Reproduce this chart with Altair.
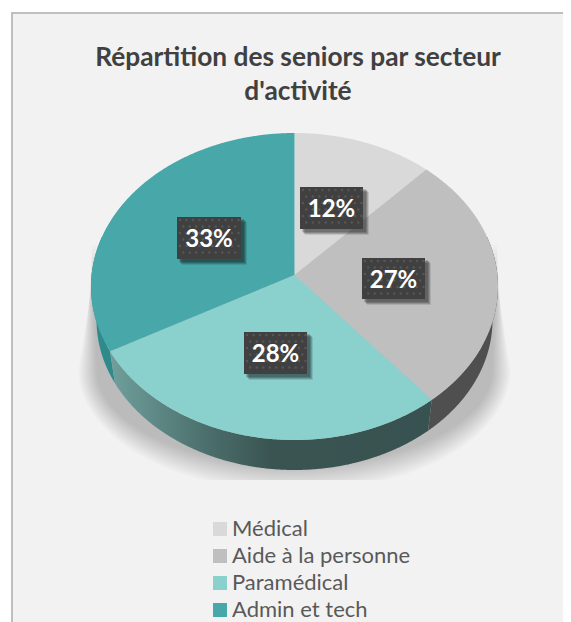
import altair as alt
import numpy as np
import pandas as pd

# ---- chart values
title_lines = ["Répartition des seniors par secteur", "d'activité"]
sectors = ["Médical", "Aide à la personne", "Paramédical", "Admin et tech"]
values = [12, 27, 28, 33]
colors = ["#d9d9d9", "#bfbfbf", "#8ad0cd", "#48a7a8"]
wall_colors = ["#d9d9d9", "#4f4f4f", None, "#2f8a8c"]

# ---- page geometry (scales are in page pixels)
X0, X1, Y0, Y1 = 11, 563, 12, 622
CX, CY, RX, RY = 294.5, 286.5, 203.5, 153.5     # top disc
BCY, BRX, BRY = 320.0, 198.0, 150.0             # lower disc edge
TILT = 0.075                                    # perspective of the disc
LABEL_BOXES = {"12%": (300, 363, 187, 229), "27%": (362, 425, 258, 299),
               "28%": (244, 307, 332, 374), "33%": (177, 241, 217, 259)}

x_scale = alt.Scale(domain=[X0, X1], nice=False, zero=False)
y_scale = alt.Scale(domain=[Y1, Y0], nice=False, zero=False)
def X(f="x"): return alt.X(f"{f}:Q", scale=x_scale, axis=None)
def Y(f="y"): return alt.Y(f"{f}:Q", scale=y_scale, axis=None)


def project(theta_deg):
    t = np.radians(np.asarray(theta_deg, dtype=float))
    u, v = np.sin(t), np.cos(t)
    d = 1 + TILT * v
    return u * np.sqrt(1 - TILT ** 2) / d, (v + TILT) / d


def arc(t0, t1, cy=CY, rx=RX, ry=RY, n=120):
    a, b = project(np.linspace(t0, t1, n))
    return list(zip(CX + rx * a, cy - ry * b))


def scan(poly, step=1.0):
    """Turn a polygon into x / y / y2 rows for an area mark."""
    p = np.array(poly)
    n = len(p)
    xs = np.concatenate([np.arange(p[:, 0].min(), p[:, 0].max(), step), p[:, 0]])
    xs = np.unique(np.clip(np.concatenate([xs, p[:, 0] - 0.01, p[:, 0] + 0.01]),
                           p[:, 0].min(), p[:, 0].max()))
    rows = []
    for x in xs:
        ys = []
        for i in range(n):
            (a, b), (c, d) = p[i], p[(i + 1) % n]
            if a == c:
                continue
            if min(a, c) <= x <= max(a, c):
                ys.append(b + (d - b) * (x - a) / (c - a))
        if ys:
            rows.append((x, min(ys), max(ys)))
    return pd.DataFrame(rows, columns=["x", "y", "y2"])


# cumulative angles from the values
edges = np.cumsum([0] + values) / sum(values) * 360
apex = (CX + 0.0, CY - RY * TILT)

# frame: only the top and left borders are in the picture
frame = alt.Chart(pd.DataFrame([
    {"x": X0, "x2": X1, "y": Y0, "y2": Y0 + 2},
    {"x": X0, "x2": X0 + 2, "y": Y0, "y2": Y1},
])).mark_rect(color="#bfbfbf").encode(x=X(), x2="x2:Q", y=Y(), y2="y2:Q")

# soft ground shadow, many faint layers
layers = []
for d in range(14):
    wb = 198 + d * 1.4
    wt = 203 + d * 0.1
    top = 245 + d * 4
    yb = 370
    ry_s = 96 + d * 2.0
    ang = np.linspace(0, np.pi, 80)
    bottom = list(zip(CX + wb * np.cos(ang), yb + ry_s * np.sin(ang)))
    poly = [(CX - wt, top), (CX + wt, top)] + bottom
    df = scan(poly, 2.0)
    df["y"] = df["y"].clip(upper=480)
    df["y2"] = df["y2"].clip(upper=480)
    layers.append(alt.Chart(df).mark_area(color="#000000", opacity=0.014, interpolate="linear")
                  .encode(x=X(), y=Y(), y2="y2:Q"))

# side wall
def wall(t0, t1):
    return scan(arc(t0, t1) + arc(t1, t0, BCY, BRX, BRY))

left_wall = alt.Chart(scan(arc(edges[3], 285) + arc(285, edges[3], BCY, BRX, BRY))).mark_area(
    color=wall_colors[3]).encode(x=X(), y=Y(), y2="y2:Q")
right_wall = alt.Chart(wall(75, edges[2])).mark_area(
    color=wall_colors[1]).encode(x=X(), y=Y(), y2="y2:Q")
front_fill = alt.Gradient(
    gradient="linear", x1=0, x2=1, y1=0, y2=0,
    stops=[alt.GradientStop(color="#6f9f9c", offset=0),
           alt.GradientStop(color="#4b6f6c", offset=0.3),
           alt.GradientStop(color="#3a5452", offset=0.5),
           alt.GradientStop(color="#375250", offset=1)])
front_wall = alt.Chart(wall(edges[2], edges[3])).mark_area(
    fill=front_fill).encode(x=X(), y=Y(), y2="y2:Q")

# top of the pie
frames = []
for i, s in enumerate(sectors):
    df = scan([apex] + arc(edges[i], edges[i + 1]))
    df["sector"] = s
    df["order"] = i
    frames.append(df)
slices = alt.Chart(pd.concat(frames)).mark_area(interpolate="linear").encode(
    x=X(), y=Y(), y2="y2:Q",
    color=alt.Color("sector:N",
                    scale=alt.Scale(domain=sectors, range=colors),
                    legend=alt.Legend(
                        title=None, orient="none", legendX=198, legendY=506,
                        symbolType="square", symbolSize=196, symbolStrokeWidth=0,
                        labelFont="Lato", labelFontSize=22, labelColor="#595959",
                        labelOffset=1, rowPadding=5, labelLimit=300, padding=0)),
)

# data labels
boxes = pd.DataFrame([
    {"label": k, "x": v[0], "x2": v[1], "y": v[2], "y2": v[3]} for k, v in LABEL_BOXES.items()
])
shadow_layers = []
for off, op in ((3, 0.16), (4, 0.18), (5, 0.16), (6, 0.1)):
    sh = boxes.assign(x=boxes.x + off - 1, x2=boxes.x2 + off, y=boxes.y + off - 1, y2=boxes.y2 + off)
    shadow_layers.append(alt.Chart(sh).mark_rect(color="#000000", opacity=op).encode(
        x=X(), x2="x2:Q", y=Y(), y2="y2:Q"))
box_rects = alt.Chart(boxes).mark_rect(color="#404040").encode(
    x=X(), x2="x2:Q", y=Y(), y2="y2:Q")
dots = []
for _, b in boxes.iterrows():
    for r, yy in enumerate(np.arange(b.y + 3, b.y2 - 1, 6.5)):
        for xx in np.arange(b.x + 3 + (r % 2) * 3.25, b.x2 - 1, 6.5):
            dots.append({"x": xx, "y": yy})
dot_layer = alt.Chart(pd.DataFrame(dots)).mark_point(
    filled=True, color="#565656", size=6, opacity=1).encode(x=X(), y=Y())
boxes["cx"] = (boxes.x + boxes.x2) / 2
boxes["cy"] = (boxes.y + boxes.y2) / 2
label_text = alt.Chart(boxes).mark_text(
    font="Lato", fontWeight="bold", fontSize=24, color="#ffffff", baseline="middle", dy=2).encode(
    x=X("cx"), y=Y("cy"), text="label:N")

chart = alt.layer(frame, *layers, left_wall, right_wall, front_wall, slices,
                  *shadow_layers, box_rects, dot_layer, label_text).properties(
    width=X1 - X0, height=Y1 - Y0,
    padding={"left": X0 - 8, "top": Y0 - 8, "right": 0, "bottom": 0},
    autosize=alt.AutoSizeParams(type="none"),
    background="#ffffff",
    title=alt.TitleParams(text=title_lines, anchor="middle", frame="group",
                          offset=-93, dx=11, font="Lato", fontWeight="bold",
                          fontSize=26.3, lineHeight=34, color="#404040"),
).configure_view(fill="#f2f2f2", stroke=None)

chart.save("out.html", embed_options={"renderer": "svg", "actions": False})
